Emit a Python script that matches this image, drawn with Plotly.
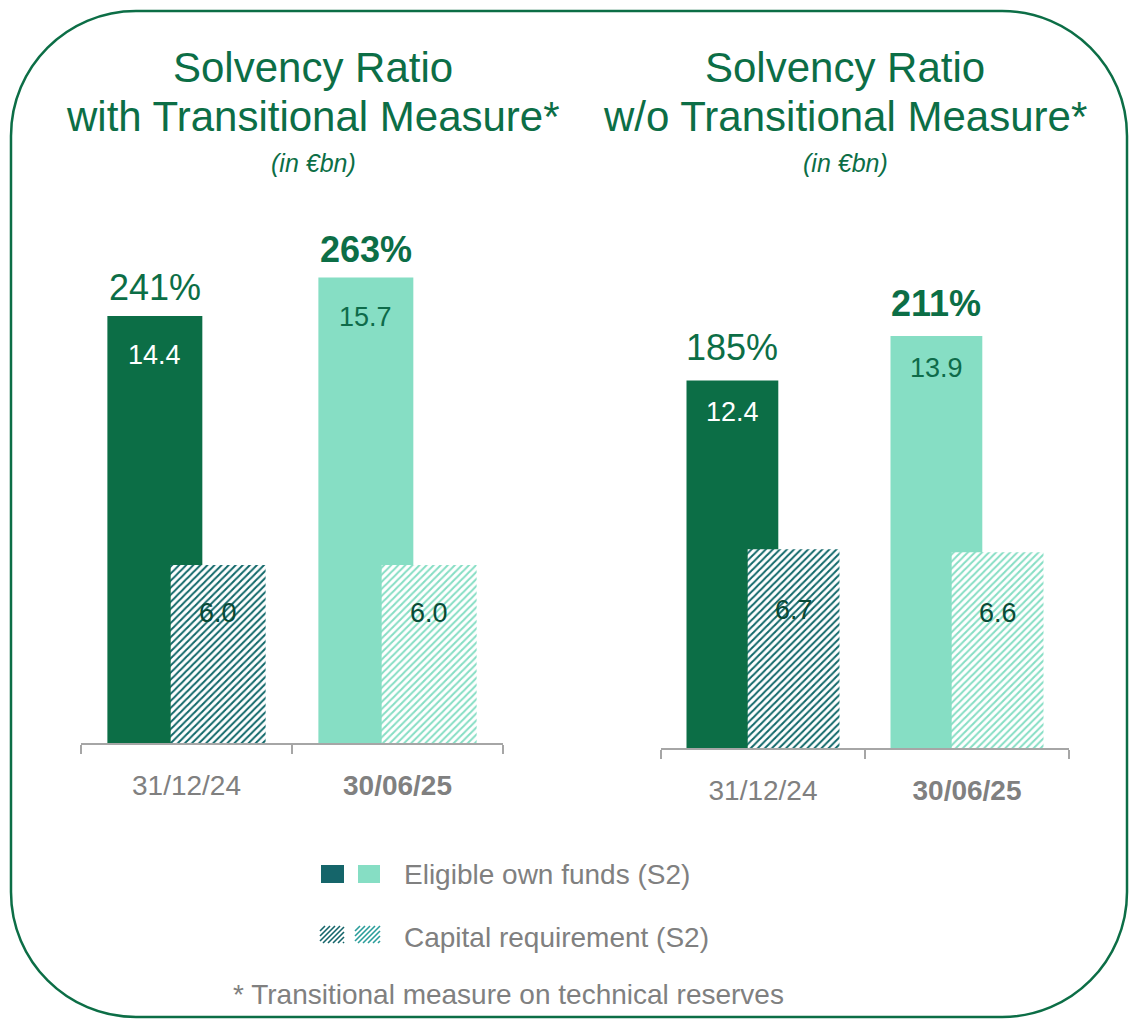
import plotly.graph_objects as go

# ---------------- data ----------------
categories = ["31/12/24", "30/06/25"]
tick_text = ["31/12/24", "<b>30/06/25</b>"]

own_funds_with = [14.4, 15.7]
requirement_with = [6.0, 6.0]
ratio_with = [241, 263]

own_funds_wo = [12.4, 13.9]
requirement_wo = [6.7, 6.6]
ratio_wo = [185, 211]

# ---------------- styles ----------------
W, H = 1130, 1019
FONT = "Liberation Sans, Arial, sans-serif"
GREEN = "#0C6E46"
LIGHT = "#86DEC4"
HATCH_DARK = "#11686A"
HATCH_LIGHT = "#86DEC4"
GREY = "#808080"
AXIS_GREY = "#A6A6A6"
OF_COLORS = [GREEN, LIGHT]
OF_TEXT = ["white", "#0E6B4A"]
REQ_TEXT = "#0A4A35"

BAR_W = 0.45
OFF_OF = -0.375
OFF_REQ = -0.075


def px(x):
    return x / W


def py(y):
    return 1 - y / H


fig = go.Figure()

panels = [
    dict(xa="x", ya="y", of=own_funds_with, req=requirement_with, ratio=ratio_with,
         req_shift=-48, of_shift=-39, pct_shift=6),
    dict(xa="x2", ya="y2", of=own_funds_wo, req=requirement_wo, ratio=ratio_wo,
         req_shift=-61, of_shift=-32, pct_shift=10),
]

annotations = []
for p in panels:
    fig.add_trace(go.Bar(
        x=categories, y=p["of"], xaxis=p["xa"], yaxis=p["ya"],
        width=BAR_W, offset=OFF_OF,
        marker=dict(color=OF_COLORS, line=dict(width=0)),
        showlegend=False, hoverinfo="skip",
    ))
    fig.add_trace(go.Bar(
        x=categories, y=p["req"], xaxis=p["xa"], yaxis=p["ya"],
        width=BAR_W, offset=OFF_REQ,
        marker=dict(color="white", line=dict(width=0),
                    pattern=dict(shape="/", fgcolor=[HATCH_DARK, HATCH_LIGHT],
                                 bgcolor="white", size=5, solidity=0.4,
                                 fillmode="replace")),
        showlegend=False, hoverinfo="skip",
    ))
    for i, cat in enumerate(categories):
        bold = i == 1
        cx_of = i + OFF_OF + BAR_W / 2
        cx_req = i + OFF_REQ + BAR_W / 2
        r = f"{p['ratio'][i]}%"
        annotations.append(dict(
            x=cx_of, y=p["of"][i], xref=p["xa"], yref=p["ya"],
            text=f"<b>{r}</b>" if bold else r, showarrow=False,
            xanchor="center", yanchor="bottom", yshift=p["pct_shift"],
            font=dict(family=FONT, size=36, color=GREEN)))
        annotations.append(dict(
            x=cx_of, y=p["of"][i], xref=p["xa"], yref=p["ya"],
            text=f"{p['of'][i]:.1f}", showarrow=False,
            xanchor="center", yanchor="middle", yshift=p["of_shift"],
            font=dict(family=FONT, size=27, color=OF_TEXT[i])))
        annotations.append(dict(
            x=cx_req, y=p["req"][i], xref=p["xa"], yref=p["ya"],
            text=f"{p['req'][i]:.1f}", showarrow=False,
            xanchor="center", yanchor="middle", yshift=p["req_shift"],
            font=dict(family=FONT, size=27, color=REQ_TEXT)))

# titles
for cx, l2 in [(313, "with Transitional Measure*"), (845, "w/o Transitional Measure*")]:
    annotations.append(dict(x=px(cx), y=py(68), xref="paper", yref="paper", showarrow=False,
                            text="Solvency Ratio", xanchor="center", yanchor="middle",
                            font=dict(family=FONT, size=42, color=GREEN)))
    annotations.append(dict(x=px(cx), y=py(117), xref="paper", yref="paper", showarrow=False,
                            text=l2, xanchor="center", yanchor="middle",
                            font=dict(family=FONT, size=42, color=GREEN)))
    annotations.append(dict(x=px(cx), y=py(163), xref="paper", yref="paper", showarrow=False,
                            text="<i>(in €bn)</i>", xanchor="center", yanchor="middle",
                            font=dict(family=FONT, size=25, color=GREEN)))

# legend texts and footnote
annotations.append(dict(x=px(402), y=py(874), xref="paper", yref="paper", showarrow=False,
                        xanchor="left", yanchor="middle", text="Eligible own funds (S2)",
                        font=dict(family=FONT, size=28, color=GREY)))
annotations.append(dict(x=px(402), y=py(937), xref="paper", yref="paper", showarrow=False,
                        xanchor="left", yanchor="middle", text="Capital requirement (S2)",
                        font=dict(family=FONT, size=28, color=GREY)))
annotations.append(dict(x=px(508), y=py(994), xref="paper", yref="paper", showarrow=False,
                        xanchor="center", yanchor="middle",
                        text="* Transitional measure on technical reserves",
                        font=dict(family=FONT, size=28, color=GREY)))

shapes = []
# legend solid swatches
for (x0, x1, c) in [(321, 344, "#15656A"), (358, 380, LIGHT)]:
    shapes.append(dict(type="rect", xref="paper", yref="paper",
                       x0=px(x0), x1=px(x1), y0=py(883), y1=py(865),
                       fillcolor=c, line=dict(width=0)))


# legend hatched swatches (diagonal lines clipped to the box)
def hatch(x0, y0, x1, y1, color, step=5):
    h = y1 - y0
    out = []
    k = -h
    while k < x1 - x0:
        ax, ay = x0 + k, y1
        bx, by = x0 + k + h, y0
        if ax < x0:
            ay = y1 - (x0 - ax)
            ax = x0
        if bx > x1:
            by = y0 + (bx - x1)
            bx = x1
        if ax < bx:
            out.append(dict(type="line", xref="paper", yref="paper",
                            x0=px(ax), y0=py(ay), x1=px(bx), y1=py(by),
                            line=dict(color=color, width=1.6)))
        k += step
    return out


shapes += hatch(320, 926, 344, 943, "#15656A")
shapes += hatch(355, 926, 380, 943, "#2A9D9A")

# rounded frame
L, T, R, B, RAD = 11, 11, 1127, 1017, 125
K = 0.5523 * RAD


def P(x, y):
    return f"{px(x):.5f},{py(y):.5f}"


path = (f"M {P(L + RAD, T)} L {P(R - RAD, T)} "
        f"C {P(R - RAD + K, T)} {P(R, T + RAD - K)} {P(R, T + RAD)} "
        f"L {P(R, B - RAD)} "
        f"C {P(R, B - RAD + K)} {P(R - RAD + K, B)} {P(R - RAD, B)} "
        f"L {P(L + RAD, B)} "
        f"C {P(L + RAD - K, B)} {P(L, B - RAD + K)} {P(L, B - RAD)} "
        f"L {P(L, T + RAD)} "
        f"C {P(L, T + RAD - K)} {P(L + RAD - K, T)} {P(L + RAD, T)} Z")
shapes.append(dict(type="path", xref="paper", yref="paper", path=path,
                   line=dict(color=GREEN, width=2.5), fillcolor="rgba(0,0,0,0)"))

xcommon = dict(type="category", range=[-0.5, 1.5], showline=True, linecolor=AXIS_GREY,
               linewidth=2, ticks="outside", tickson="boundaries", ticklen=9,
               tickcolor=AXIS_GREY, tickwidth=2, showgrid=False, zeroline=False,
               tickvals=categories, ticktext=tick_text, ticklabelstandoff=16,
               tickfont=dict(family=FONT, size=28, color=GREY), fixedrange=True)
ycommon = dict(range=[0, 17], visible=False, showgrid=False, zeroline=False, fixedrange=True)

fig.update_layout(
    width=W, height=H, margin=dict(l=0, r=0, t=0, b=0),
    paper_bgcolor="white", plot_bgcolor="white",
    barmode="overlay", showlegend=False,
    xaxis=dict(domain=[px(81), px(503)], anchor="y", **xcommon),
    yaxis=dict(domain=[py(743), py(239)], anchor="x", **ycommon),
    xaxis2=dict(domain=[px(661), px(1069)], anchor="y2", **xcommon),
    yaxis2=dict(domain=[py(748), py(244)], anchor="x2", **ycommon),
    annotations=annotations, shapes=shapes,
)

fig.write_html("out.html", config={"displayModeBar": False},
               post_script="document.body.style.margin='0';")
